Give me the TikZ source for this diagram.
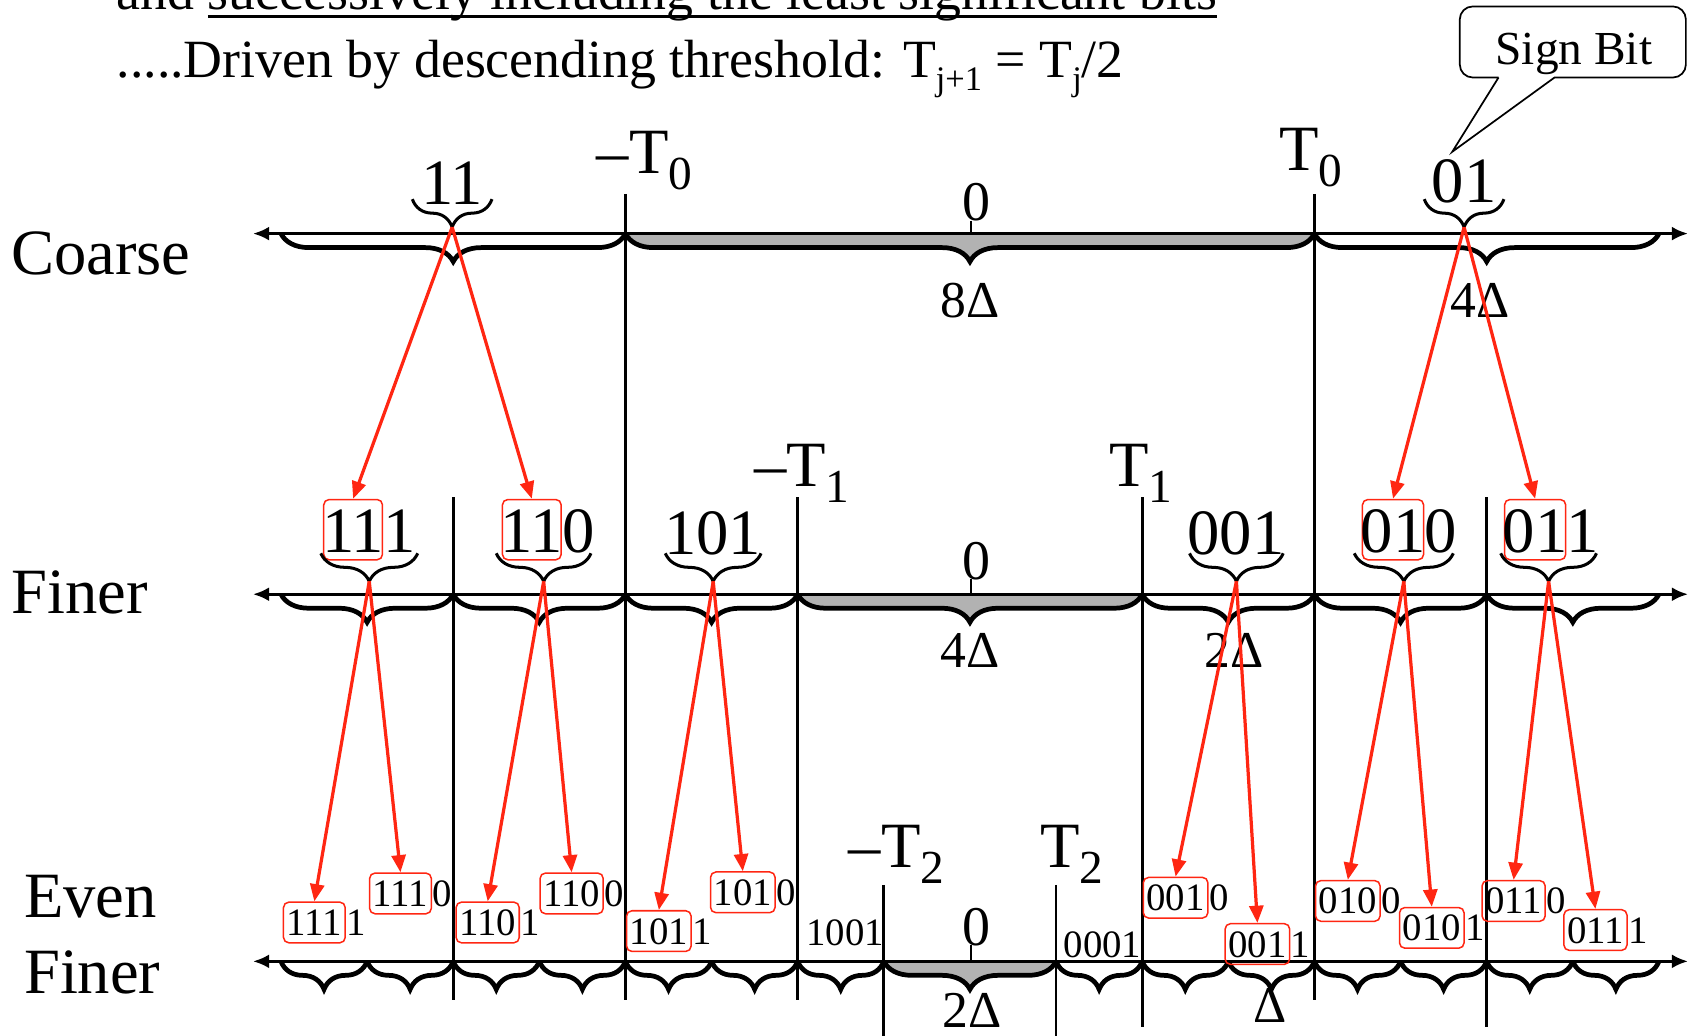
\documentclass[tikz,border=0pt]{standalone}
\usepackage{fontspec}
\setmainfont{Liberation Serif}
\usetikzlibrary{arrows.meta,positioning,decorations.pathreplacing,calc}
\definecolor{bitred}{RGB}{255,38,18}
\definecolor{zonegray}{RGB}{178,178,178}
\newcommand{\lowsub}[1]{\raisebox{-7.5pt}{\fontsize{22}{22}\selectfont #1}}
\newcommand{\tsub}[1]{\raisebox{-6pt}{\fontsize{16}{16}\selectfont #1}}
\newcommand{\thickul}[1]{\setbox0\hbox{#1}\rlap{\rule[-4pt]{\wd0}{1.6pt}}\box0}

\begin{document}
\begin{tikzpicture}[
  x=0.5pt, y=-0.5pt,
  axisline/.style={{Latex[length=7.5pt,width=6.5pt]}-{Latex[length=7.5pt,width=6.5pt]}, line width=1.4pt},
  cellbrace/.style={decorate, decoration={brace, mirror, amplitude=13pt}, line width=2.2pt},
  capbrace/.style={decorate, decoration={brace, mirror, amplitude=13pt}, line width=1.4pt},
  divider/.style={line width=1.3pt},
  zerotick/.style={line width=0.6pt},
  redarrow/.style={-{Triangle[length=8pt,width=6.5pt]}, line width=1.5pt, draw=bitred},
  rowname/.style={font=\fontsize{30}{32}\selectfont, anchor=base west, inner sep=0pt},
  thresh/.style={font=\fontsize{30}{32}\selectfont, anchor=base west, inner sep=0pt},
  toptext/.style={font=\fontsize{25}{27}\selectfont, anchor=base west, inner sep=0pt},
  bigbits/.style={font=\fontsize{30}{32}\selectfont, anchor=base, inner sep=0pt},
  smallbits/.style={font=\fontsize{18}{20}\selectfont, anchor=base, inner sep=0pt},
  bigbox/.style={draw=bitred, line width=0.7pt, rounded corners=2.5pt, inner xsep=-0.8pt, inner ysep=2pt, text height=22.5pt, text depth=1.5pt},
  smallbox/.style={draw=bitred, line width=0.7pt, rounded corners=2.5pt, inner xsep=1.5pt, inner ysep=2pt, text height=13.5pt, text depth=1.4pt},
  tail/.style={anchor=base west, inner sep=0pt},
  zero/.style={font=\fontsize{26}{28}\selectfont, anchor=base, inner sep=0pt},
  spanlabel/.style={font=\fontsize{24}{26}\selectfont, anchor=base, inner sep=0pt}
]
\useasboundingbox (0,0) rectangle (1568,962);
\clip (0,0) rectangle (1568,962);

% heading
\node[toptext] (line1) at (108,9) {and \thickul{successively including the least significant bits}};
\node[toptext] (line2) at (108,72) {.....Driven by descending threshold: T\tsub{j+1} = T\tsub{j}/2};

% row names
\node[rowname] (coarse) at (10,255) {Coarse};
\node[rowname] (finer) at (10,570) {Finer};
\node[rowname] (even) at (22,852) {Even};
\node[rowname] (evenfiner) at (22,923) {Finer};

% braces under the axes
\foreach \a/\b in {-8/-4, 4/8}
  \draw[cellbrace] ({901+80*\a},217) -- ({901+80*\b},217);
\path[cellbrace, draw, fill=zonegray] (581,217) -- (1221,217);
\foreach \a in {-8,-6,-4,2,4,6}
  \draw[cellbrace] ({901+80*\a},552) -- ({901+80*(\a+2)},552);
\path[cellbrace, draw, fill=zonegray] (741,552) -- (1061,552);
\foreach \a in {-8,-7,-6,-5,-4,-3,-2,1,2,3,4,5,6,7}
  \draw[cellbrace] ({901+80*\a},893) -- ({901+80*(\a+1)},893);
\path[cellbrace, draw, fill=zonegray] (821,893) -- (981,893);

% axes
\foreach \y in {217,552,893}
  \draw[axisline] (235,\y) -- (1568,\y);

% thresholds
\foreach \x/\t/\b in {581/180/929, 1221/180/929, 421/462/929, 741/462/929,
                      1061/462/954, 1381/462/954, 821/822/962, 981/822/962}
  \draw[divider] (\x,\t) -- (\x,\b);
\node[thresh] (mT0) at (554,161) {–T\lowsub{0}};
\node[thresh] (pT0) at (1188,158) {T\lowsub{0}};
\node[thresh] (mT1) at (700,452) {–T\lowsub{1}};
\node[thresh] (pT1) at (1030,452) {T\lowsub{1}};
\node[thresh] (mT2) at (788,806) {–T\lowsub{2}};
\node[thresh] (pT2) at (966,806) {T\lowsub{2}};

% zero bins
\foreach \n/\y/\a in {z0/205/217, z1/538/552, z2/878/893} {
  \node[zero] (\n) at (907,\y) {0};
  \draw[zerotick] (902,\y) -- (902,\a);
}

% bin widths
\node[spanlabel] (d8) at (901,295) {8Δ};
\node[spanlabel] (d4c) at (1375,295) {4Δ};
\node[spanlabel] (d4f) at (901,620) {4Δ};
\node[spanlabel] (d2f) at (1146,620) {2Δ};
\node[spanlabel] (d2e) at (903,954) {2Δ};
\node[spanlabel] (d1e) at (1180,950) {Δ};

% coarse codes
\node[bigbits] (c11) at (420,190) {11};
\node[bigbits] (c01) at (1360,188) {01};

% finer codes
\foreach \n/\x/\h/\t in {f111/328/11/1, f110/494/11/0, f010/1294/01/0, f011/1426/01/1} {
  \node[bigbits, bigbox] (\n) at (\x,513) {\h};
  \node[bigbits, tail] (\n-t) at (\n.base east) {\t};
}
\node[bigbits] (f101) at (662,515) {101};
\node[bigbits] (f001) at (1148,515) {001};

% even finer codes
\foreach \n/\x/\y/\h/\t in {e1111/292/869/111/1, e1110/372/842/111/0,
    e1101/453/869/110/1, e1100/531/842/110/0, e1011/612/877/101/1,
    e1010/690/841/101/0, e0010/1092/846/001/0, e0011/1168/889/001/1,
    e0100/1252/849/010/0, e0101/1330/874/010/1, e0110/1406/849/011/0,
    e0111/1482/876/011/1} {
  \node[smallbits, smallbox] (\n) at (\x,\y) {\h};
  \node[smallbits, tail] (\n-t) at (\n.base east) {\t};
}
\node[smallbits] (e1001) at (785,878) {1001};
\node[smallbits] (e0001) at (1024,889) {0001};

% braces over the codes
\foreach \l/\r/\y/\n in {383/457/185/c11, 1323/1397/185/c01, 298/388/514/f111,
    461/549/514/f110, 618/707/514/f101, 1105/1192/514/f001, 1258/1350/514/f010,
    1394/1483/514/f011} {
  \draw[capbrace] (\l,\y) -- (\r,\y);
  \coordinate (tip-\n) at ({(\l+\r)/2},{\y+26});
}

% refinement
\foreach \s/\t in {c11/f111, c11/f110, c01/f010, c01/f011,
    f111/e1111, f111/e1110, f110/e1101, f110/e1100, f101/e1011, f101/e1010,
    f001/e0010, f001/e0011, f010/e0100, f010/e0101, f011/e0110, f011/e0111}
  \draw[redarrow] (tip-\s) -- (\t.north);

% sign bit callout
\node[font=\fontsize{22}{24}\selectfont, anchor=base, inner sep=0pt] (sign) at (1462,60) {Sign Bit};
\coordinate (signtip) at (1349,141);
\draw[line width=0.8pt] (1392,72) -- (signtip) -- (1444,72) -- (1500,72)
  [rounded corners=6pt] -- (1566,72) -- (1566,6) -- (1356,6) -- (1356,72) -- (1392,72);

\end{tikzpicture}
\end{document}
